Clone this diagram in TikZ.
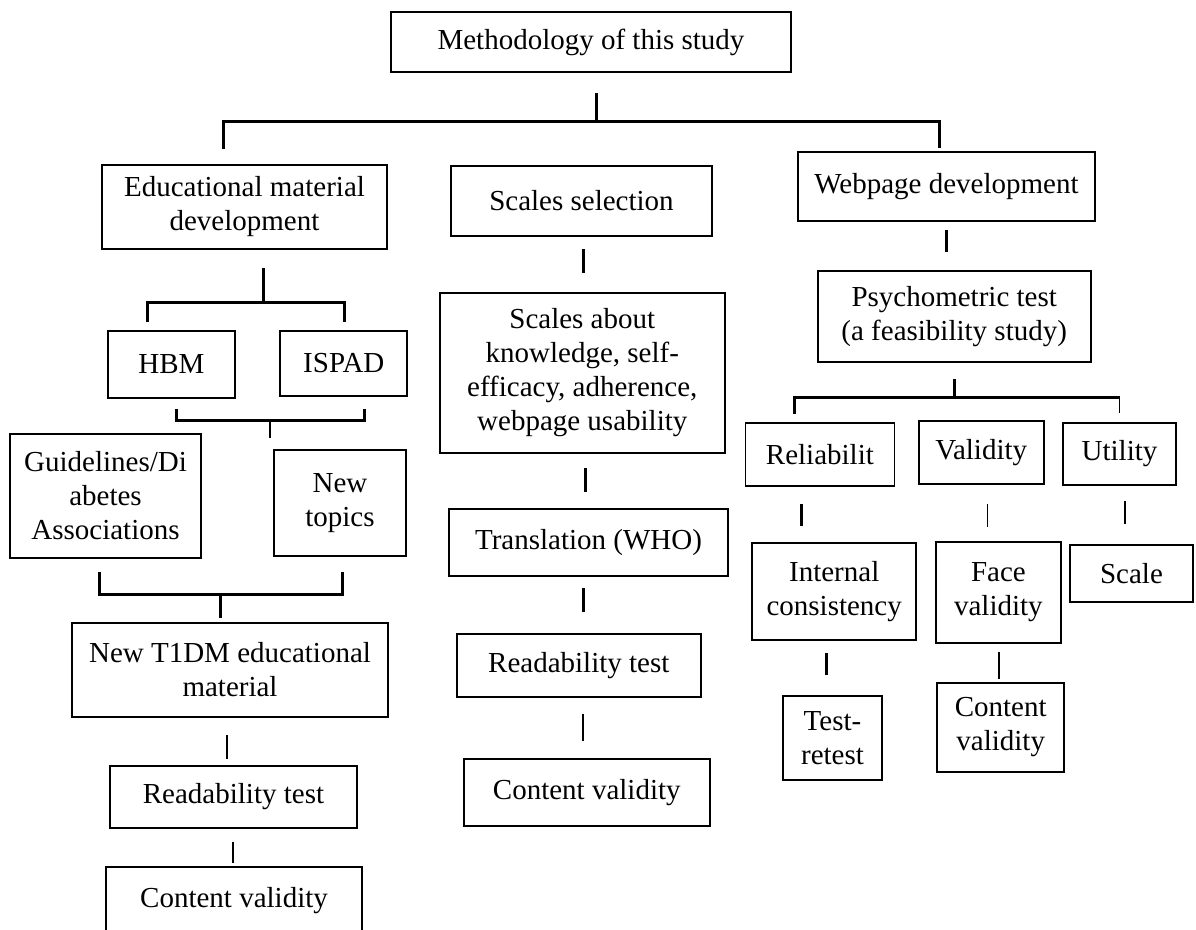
\documentclass[tikz,border=0pt]{standalone}
\usepackage{fontspec}
\setmainfont{Liberation Serif}
\begin{document}
\begin{tikzpicture}[x=1pt,y=-1pt,
  bx/.style={draw,line width=1.8pt,inner sep=0pt,outer sep=0pt,align=center,
    font=\fontsize{29}{34}\selectfont},
  thk/.style={line width=3pt},
  thn/.style={line width=1.6pt}]
\useasboundingbox (0,0) rectangle (1196,929);
% boxes
\node[bx,minimum width=400pt,minimum height=60pt] (top) at (591,42) {Methodology of this study};
\node[bx,minimum width=285pt,minimum height=84pt] (edu) at (244.5,207) {Educational material\\development};
\node[bx,minimum width=261pt,minimum height=70pt] (sel) at (581.5,201) {Scales selection};
\node[bx,minimum width=297pt,minimum height=69pt] (web) at (946.5,186.5) {Webpage development};
\node[bx,minimum width=127pt,minimum height=67pt] (hbm) at (171.5,364.5) {HBM};
\node[bx,minimum width=127pt,minimum height=65pt] (isp) at (343.8,363.5) {ISPAD};
\node[bx,minimum width=191pt,minimum height=124pt] (gui) at (105.5,496) {Guidelines/Di\\abetes\\Associations};
\node[bx,minimum width=132pt,minimum height=106pt] (newt) at (340,503) {New\\topics};
\node[bx,minimum width=316pt,minimum height=94pt] (t1dm) at (230,670) {New T1DM educational\\material};
\node[bx,minimum width=247pt,minimum height=62pt] (rdl) at (233.5,797) {Readability test};
\node[bx,minimum width=256pt,minimum height=68pt] (cvl) at (234,901) {Content validity};
\node[bx,minimum width=285pt,minimum height=160pt] (sab) at (582.3,373) {Scales about\\knowledge, self-\\efficacy, adherence,\\webpage usability};
\node[bx,minimum width=279pt,minimum height=67pt] (tr) at (588.5,542.5) {Translation (WHO)};
\node[bx,minimum width=244pt,minimum height=63pt] (rdm) at (578.8,665.5) {Readability test};
\node[bx,minimum width=246pt,minimum height=67pt] (cvm) at (586.8,792.5) {Content validity};
\node[bx,minimum width=273pt,minimum height=91pt] (psy) at (954.2,316.5) {Psychometric test\\(a feasibility study)};
\node[bx,minimum width=149pt,minimum height=63pt] (rel) at (819.9,454.5) {Reliabilit};
\node[bx,minimum width=125pt,minimum height=63pt] (val) at (981.2,452.5) {Validity};
\node[bx,minimum width=112.5pt,minimum height=62pt] (uti) at (1119.5,454) {Utility};
\node[bx,minimum width=164pt,minimum height=97pt] (ic) at (834.2,591.5) {Internal\\consistency};
\node[bx,minimum width=125pt,minimum height=101pt] (fv) at (998.4,592.5) {Face\\validity};
\node[bx,minimum width=123pt,minimum height=57pt] (sc) at (1131.5,573.5) {Scale};
\node[bx,minimum width=99pt,minimum height=84pt] (tt) at (832.5,738) {Test-\\retest};
\node[bx,minimum width=127pt,minimum height=89pt] (cvr) at (1000.7,727.5) {Content\\validity};
% connector points
\coordinate (t1) at (596,93); \coordinate (t2) at (596,121);
\coordinate (a1) at (223,149); \coordinate (a2) at (223,121);
\coordinate (a3) at (939,121); \coordinate (a4) at (939,148);
\coordinate (e1) at (263,268); \coordinate (e2) at (263,302);
\coordinate (b1) at (147,322); \coordinate (b2) at (147,302);
\coordinate (b3) at (344,302); \coordinate (b4) at (344,322);
\coordinate (h1) at (176,409); \coordinate (h2) at (176,420);
\coordinate (h3) at (364,420); \coordinate (h4) at (364,409);
\coordinate (h5) at (270,420); \coordinate (h6) at (270,438);
\coordinate (g1) at (99,572); \coordinate (g2) at (99,594);
\coordinate (g3) at (342,594); \coordinate (g4) at (342,572);
\coordinate (g5) at (220,594); \coordinate (g6) at (220,618);
\coordinate (l1) at (227,735); \coordinate (l2) at (227,759);
\coordinate (l3) at (233,842); \coordinate (l4) at (233,863);
\coordinate (m1) at (583,249); \coordinate (m2) at (583,273);
\coordinate (m3) at (585.5,468); \coordinate (m4) at (585.5,492);
\coordinate (m5) at (583,588); \coordinate (m6) at (583,612);
\coordinate (m7) at (583,714); \coordinate (m8) at (583,741);
\coordinate (w1) at (946,230); \coordinate (w2) at (946,252);
\coordinate (p1) at (954.2,379); \coordinate (p2) at (954.2,397);
\coordinate (q1) at (794.6,414); \coordinate (q2) at (794.6,397);
\coordinate (q3) at (1119.5,397); \coordinate (q4) at (1119.5,413);
\coordinate (r1) at (801.2,504); \coordinate (r2) at (801.2,526);
\coordinate (v1) at (987.5,504); \coordinate (v2) at (987.5,527);
\coordinate (u1) at (1125.2,501); \coordinate (u2) at (1125.2,524);
\coordinate (i1) at (826.7,653); \coordinate (i2) at (826.7,675);
\coordinate (f1) at (998.9,652); \coordinate (f2) at (998.9,679);
% connectors
\draw[thk] (t1) -- (t2);
\draw[thk] (a1) -- (a2) -- (a3) -- (a4);
\draw[thk] (e1) -- (e2);
\draw[thk] (b1) -- (b2) -- (b3) -- (b4);
\draw[thk] (h1) -- (h2) -- (h3) -- (h4);
\draw[thn] (h5) -- (h6);
\draw[thk] (g1) -- (g2) -- (g3) -- (g4);
\draw[thk] (g5) -- (g6);
\draw[thn] (l1) -- (l2);
\draw[thn] (l3) -- (l4);
\draw[thk] (m1) -- (m2);
\draw[thk] (m3) -- (m4);
\draw[thk] (m5) -- (m6);
\draw[thn] (m7) -- (m8);
\draw[thk] (w1) -- (w2);
\draw[thk] (p1) -- (p2);
\draw[thk] (q1) -- (q2) -- (q3);
\draw[thn] (q3) -- (q4);
\draw[thk] (r1) -- (r2);
\draw[thn] (v1) -- (v2);
\draw[thn] (u1) -- (u2);
\draw[thk] (i1) -- (i2);
\draw[thn] (f1) -- (f2);
\end{tikzpicture}
\end{document}
